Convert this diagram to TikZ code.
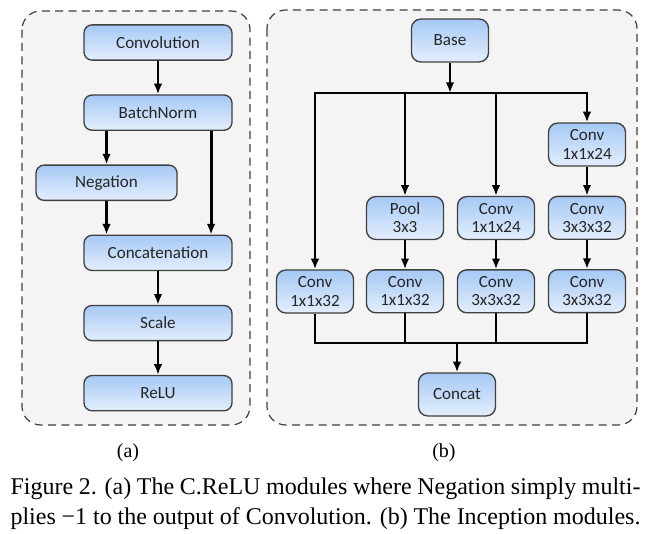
\documentclass[tikz,border=0pt]{standalone}
\usepackage{fontspec}
\setmainfont{Liberation Serif}
\newfontfamily\boxfont{Carlito}
\usetikzlibrary{arrows.meta, positioning}
\definecolor{nodetop}{HTML}{A6C9F5}
\definecolor{nodebot}{HTML}{E3EEFC}
\definecolor{panelgray}{HTML}{F4F4F4}
\definecolor{edgegray}{HTML}{404040}

\begin{document}
\begin{tikzpicture}[x=0.375pt, y=-0.375pt,
  node distance=12.6pt,
  panel/.style={draw=edgegray, dash pattern=on 3pt off 2pt, line width=0.45pt, fill=panelgray, rounded corners=7pt},
  wide/.style={rectangle, draw=edgegray, line width=0.5pt, rounded corners=3pt, top color=nodetop, bottom color=nodebot, minimum width=55.5pt, minimum height=13.2pt, inner sep=1pt, font=\boxfont\fontsize{6.4}{7}\selectfont, text=black!85},
  small/.style={wide, rounded corners=3.5pt, minimum width=28.9pt, minimum height=16.1pt, align=center, font=\boxfont\fontsize{6.4}{6.8}\selectfont},
  arrow/.style={-{Latex[length=4pt,width=3.2pt]}, line width=1.1pt},
  wire/.style={line width=1.1pt}
]
\useasboundingbox (0,0) rectangle (649,534);

\draw[panel] (22,11) rectangle (250,425);
\draw[panel] (267,10) rectangle (637,425);

\node[wide] (conv) at (158,42.5) {Convolution};
\node[wide, below=of conv] (bn) {BatchNorm};
\node[wide, minimum width=52.9pt, below=of bn, xshift=-19.3pt] (neg) {Negation};
\node[wide, below=of neg, xshift=19.3pt] (cat) {Concatenation};
\node[wide, below=of cat] (scale) {Scale};
\node[wide, below=of scale] (relu) {ReLU};

\draw[arrow] (conv) -- (bn);
\draw[arrow] (bn.south -| neg) -- (neg);
\draw[arrow] ([xshift=19.9pt]bn.south) -- ([xshift=19.9pt]cat.north);
\draw[arrow] (neg) -- (neg |- cat.north);
\draw[arrow] (cat) -- (scale);
\draw[arrow] (scale) -- (relu);

\node[small] (base) at (450,40.5) {Base};
\coordinate (split) at (450,93);
\node[small] (b4a) at (587,144.5) {Conv\\1x1x24};
\node[small, below=10.9pt of b4a] (b4b) {Conv\\3x3x32};
\node[small, below=10.9pt of b4b] (b4c) {Conv\\3x3x32};
\node[small] (b2a) at (405,218) {Pool\\3x3};
\node[small, below=10.9pt of b2a] (b2b) {Conv\\1x1x32};
\node[small] (b3a) at (496,218) {Conv\\1x1x24};
\node[small, below=10.9pt of b3a] (b3b) {Conv\\3x3x32};
\node[small] (b1) at (315,291.5) {Conv\\1x1x32};
\coordinate (merge) at (457,343);
\node[small] (concat) at (457,394.5) {Concat};

\draw[arrow] (base) -- (split);
\foreach \b in {b1, b2a, b3a, b4a}
  \draw[arrow] (split) -| (\b);
\draw[arrow] (b2a) -- (b2b);
\draw[arrow] (b3a) -- (b3b);
\draw[arrow] (b4a) -- (b4b);
\draw[arrow] (b4b) -- (b4c);
\foreach \b in {b1, b2b, b3b, b4c}
  \draw[wire] (\b) |- (merge);
\draw[arrow] (merge) -- (concat);

\node[font=\fontsize{7.5}{9}\selectfont, anchor=base] (capa) at (128,458) {(a)};
\node[font=\fontsize{7.5}{9}\selectfont, anchor=base] (capb) at (444,458) {(b)};
\node[anchor=base west, text width=236.25pt, align=justify, inner sep=0pt, font=\fontsize{9}{10.9}\selectfont] (caption) at (10,495)
  {\parfillskip=0pt \hyphenpenalty=10000 Figure 2. (a) The C.ReLU modules where Negation simply multi-\linebreak plies −1 to the output of Convolution. (b) The Inception modules.};

\end{tikzpicture}
\end{document}
